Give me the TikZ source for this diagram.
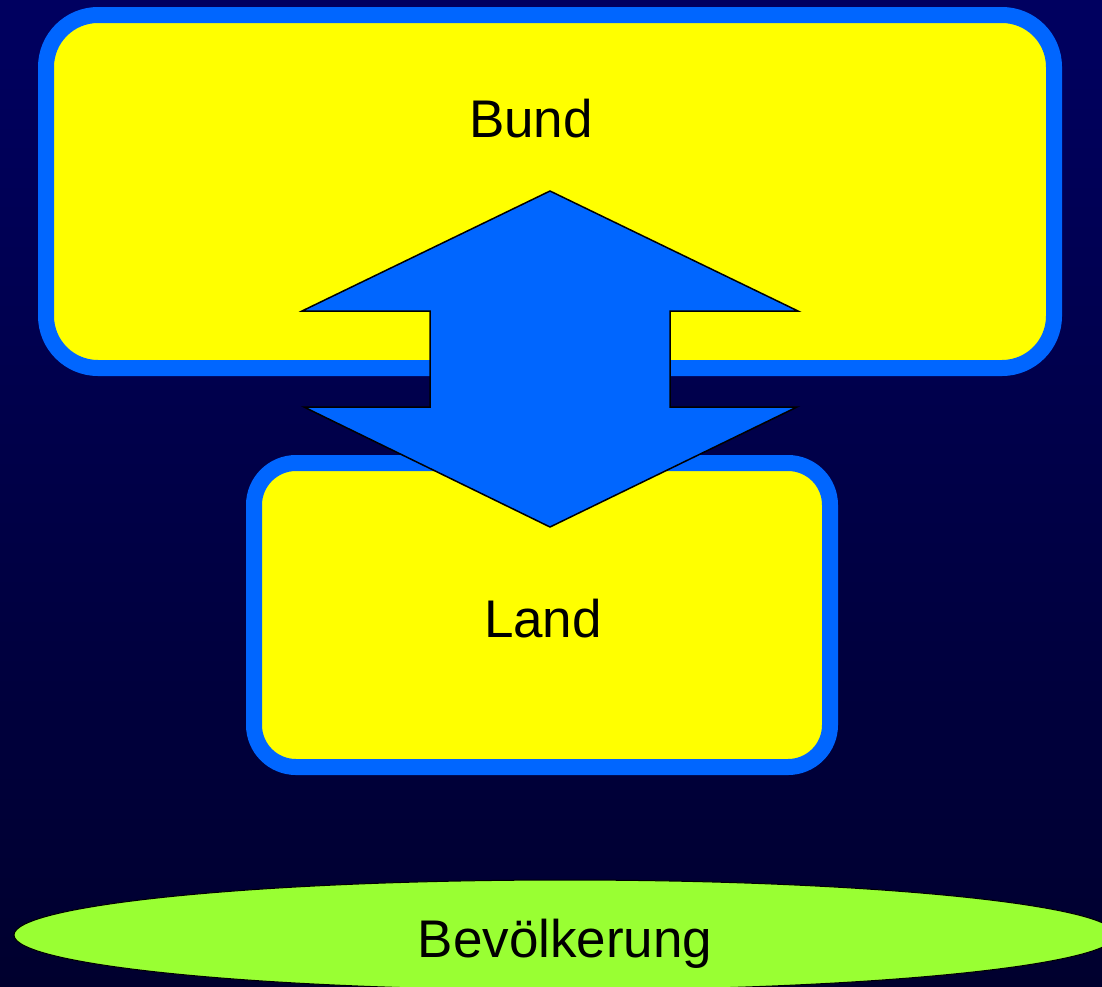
\documentclass[tikz,border=0pt]{standalone}
\usepackage{fontspec}
\setmainfont{Liberation Sans}
\usepackage{tikz}
\usetikzlibrary{shapes.geometric,positioning}
\definecolor{navytop}{RGB}{0,0,96}
\definecolor{navybot}{RGB}{0,0,46}
\definecolor{boxblue}{RGB}{0,102,255}
\definecolor{boxyellow}{RGB}{255,255,0}
\definecolor{folkgreen}{RGB}{153,255,51}
\tikzset{
  levelbox/.style={rectangle,draw=boxblue,fill=boxyellow,line width=16pt,inner sep=0pt},
  leveltext/.style={font=\fontsize{53}{63}\selectfont,text=black,anchor=base,inner sep=0pt},
}

\begin{document}
\begin{tikzpicture}[x=1pt,y=-1pt]
      % Coordinates
      \coordinate (T) at (550,191);
      \coordinate (HR) at (798,311);
      \coordinate (SR) at (670,311);
      \coordinate (SRB) at (670,407);
      \coordinate (LR) at (797,407);
      \coordinate (B) at (550,527);
      \coordinate (LL) at (304,407);
      \coordinate (SLB) at (430,407);
      \coordinate (SL) at (430,311);
      \coordinate (HL) at (302,311);
      % Background
      \useasboundingbox (0,0) rectangle (1102,986);
      \shade[top color=navytop,bottom color=navybot] (0,0) rectangle (1102,986);
      % Levels
      \node[levelbox,minimum width=1008pt,minimum height=353pt,rounded corners=52pt] (bund) at (550,191.5) {};
      \node[levelbox,minimum width=576pt,minimum height=304pt,rounded corners=42pt] (land) at (542,615) {};
      \node[ellipse,draw=black,fill=folkgreen,line width=1pt,inner sep=0pt,
            minimum width=1102pt,minimum height=110pt] (folk) at (565,935) {};
      % Double arrow
      \filldraw[fill=boxblue,draw=black,line width=1.5pt]
        (T)--(HR)--(SR)--(SRB)--(LR)--(B)--(LL)--(SLB)--(SL)--(HL)--cycle;
      % Labels
      \node[leveltext] (bundtext) at (531,137) {Bund};
      \node[leveltext] (landtext) at (543,637) {Land};
      \node[leveltext] (folktext) at (565,957) {Bevölkerung};
\end{tikzpicture}
\end{document}
